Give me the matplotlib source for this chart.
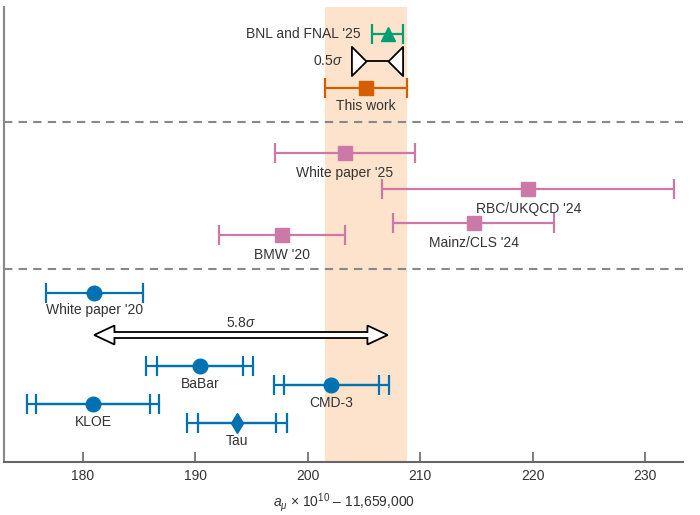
import matplotlib
matplotlib.use("Agg")
import matplotlib.pyplot as plt
from matplotlib.path import Path
from matplotlib.patches import Polygon

plt.rcParams["font.family"] = ["Liberation Sans", "DejaVu Sans"]
plt.rcParams["mathtext.fontset"] = "custom"
plt.rcParams["mathtext.rm"] = "Liberation Sans"
plt.rcParams["mathtext.it"] = "Liberation Sans:italic"

# --- values (a_mu x 1e10 - 11,659,000) ---
this_work, this_err = 205.2, 3.65
bnl, bnl_err = 207.1, 1.4

lattice_names = ["White paper '25", "RBC/UKQCD '24", "Mainz/CLS '24", "BMW '20"]
lattice_vals = [203.3, 219.6, 214.75, 197.7]
lattice_errs = [6.2, 13.0, 7.15, 5.6]

wp20, wp20_err = 181.0, 4.3

data_names = ["BaBar", "CMD-3", "KLOE", "Tau"]
data_vals = [190.4, 202.1, 180.9, 193.7]
data_tot = [4.75, 5.1, 5.9, 4.45]
data_stat = [3.85, 4.2, 5.1, 3.45]

sigma_small = "0.5$\\sigma$"
sigma_big = "5.8$\\sigma$"

# row positions (pixel rows, axis inverted)
rows_top = {"bnl": 34, "sig": 61, "this": 88}
rows_lat = [153, 189, 223, 235]
row_wp20 = 293
row_arrow = 335
rows_data = [366, 385, 404, 423]
separators = [122, 269]

GREEN = "#009E73"
ORANGE = "#D55E00"
PINK = "#CC79A7"
BLUE = "#0072B2"
BAND = "#FDE3CC"
TXT = "#333333"
GREY = "#888888"
FS = 10

fig = plt.figure(figsize=(7, 5.15), dpi=100)
ax = fig.add_axes([0.0061, 0.1029, 0.9701, 0.8835])
ax.set_xlim(173.0, 233.4)
ax.set_ylim(462, 7)

ax.axvspan(this_work - this_err, this_work + this_err, color=BAND, lw=0, zorder=0)
for s in separators:
    ax.axhline(s, color=GREY, lw=1.5, ls=(0, (4, 3)), zorder=1)

ebkw = dict(lw=1.6, capsize=7, capthick=1.6, zorder=3)

# top block
ax.errorbar(bnl, rows_top["bnl"], xerr=bnl_err, fmt="^", ms=10, color=GREEN, **ebkw)
ax.annotate("BNL and FNAL '25", (bnl - bnl_err, rows_top["bnl"]), xytext=(-8, 0),
            textcoords="offset points", ha="right", va="center", fontsize=FS, color=TXT)

ax.errorbar(this_work, rows_top["this"], xerr=this_err, fmt="s", ms=10, color=ORANGE, **ebkw)
ax.text(this_work, rows_top["this"] + 18, "This work", ha="center", va="center",
        fontsize=FS, color=TXT)

tri_r = Path([(-1, 1), (-1, -1), (0, 0), (-1, 1)], closed=True)
tri_l = Path([(1, 1), (1, -1), (0, 0), (1, 1)], closed=True)
ax.plot([this_work, bnl], [rows_top["sig"]] * 2, color="black", lw=1.3, zorder=3)
ax.plot(this_work, rows_top["sig"], marker=tri_r, ms=21, mfc="white", mec="black",
        mew=1.3, zorder=4)
ax.plot(bnl, rows_top["sig"], marker=tri_l, ms=21, mfc="white", mec="black",
        mew=1.3, zorder=4)
ax.annotate(sigma_small, (this_work, rows_top["sig"]), xytext=(-17, 0),
            textcoords="offset points", ha="right", va="center", fontsize=FS, color=TXT)

# lattice block
for name, v, e, r in zip(lattice_names, lattice_vals, lattice_errs, rows_lat):
    ax.errorbar(v, r, xerr=e, fmt="s", ms=10, color=PINK, **ebkw)
    ax.text(v, r + 20, name, ha="center", va="center", fontsize=FS, color=TXT)

# data-driven block
ax.errorbar(wp20, row_wp20, xerr=wp20_err, fmt="o", ms=10.5, color=BLUE, **ebkw)
ax.text(wp20, row_wp20 + 17, "White paper '20", ha="center", va="center",
        fontsize=FS, color=TXT)

markers = ["o", "o", "o", "d"]
for name, v, et, es, r, m in zip(data_names, data_vals, data_tot, data_stat,
                                 rows_data, markers):
    ax.errorbar(v, r, xerr=et, fmt="none", color=BLUE, **ebkw)
    ax.errorbar(v, r, xerr=es, fmt="none", color=BLUE, **ebkw)
    ax.plot(v, r, marker=m, ms=10.5 if m == "o" else 10, color=BLUE, ls="none", zorder=4)
    ax.text(v, r + 18, name, ha="center", va="center", fontsize=FS, color=TXT)

# hollow double arrow between white paper '20 and experiment
hl, hb, hh = 1.8, 3.0, 9.5
x0, x1, y = wp20, bnl, row_arrow
verts = [(x0, y), (x0 + hl, y - hh), (x0 + hl, y - hb), (x1 - hl, y - hb),
         (x1 - hl, y - hh), (x1, y), (x1 - hl, y + hh), (x1 - hl, y + hb),
         (x0 + hl, y + hb), (x0 + hl, y + hh)]
ax.add_patch(Polygon(verts, closed=True, fc="white", ec="black", lw=1.3, zorder=3))
ax.text((x0 + x1) / 2, y - 12, sigma_big, ha="center", va="center", fontsize=FS,
        color=TXT)

# axes styling
for sp in ["top", "right"]:
    ax.spines[sp].set_visible(False)
ax.spines["left"].set_color(GREY)
ax.spines["left"].set_linewidth(1.5)
ax.spines["bottom"].set_color("#666666")
ax.spines["bottom"].set_linewidth(1.5)
ax.set_yticks([])
ax.set_xticks([180, 190, 200, 210, 220, 230])
ax.tick_params(axis="x", direction="in", length=7, width=1.2, color="#666666",
               labelsize=FS, labelcolor=TXT, pad=5)
ax.set_xlabel("$a_{\\mu}$ \u00d7 10$^{10}$ \u2013 11,659,000", fontsize=FS,
              color=TXT, labelpad=6)

fig.savefig("out.png", dpi=100)
